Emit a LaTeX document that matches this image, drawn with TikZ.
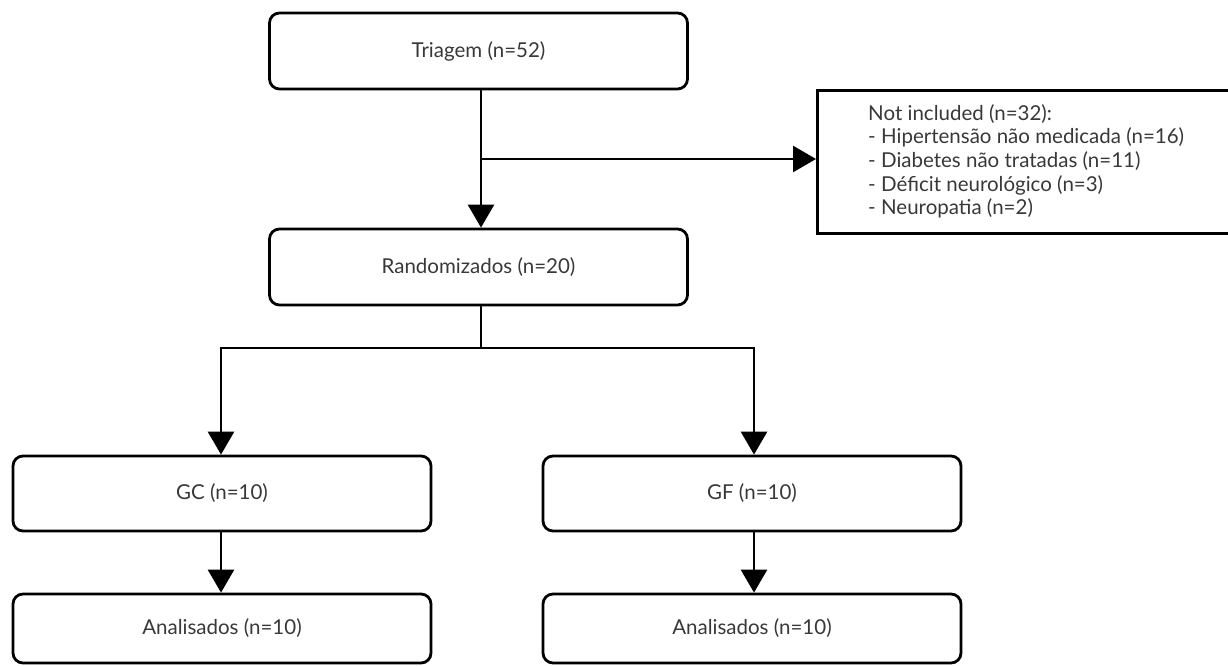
\documentclass[tikz,border=0pt]{standalone}
\usepackage{fontspec}
\setmainfont{Lato}
\usetikzlibrary{arrows.meta}
\begin{document}
\begin{tikzpicture}[x=1pt,y=-1pt,
  rbox/.style={draw=black,line width=2.8pt,rounded corners=10pt,minimum width=418pt,minimum height=76pt,inner sep=0pt,font=\fontsize{20.5}{23.7}\selectfont,text=black!78},
  sbox/.style={draw=black,line width=2.8pt,inner sep=0pt},
  conn/.style={line width=2.8pt},
  arr/.style={conn,-{Triangle[width=26pt,length=23pt]}}]
\useasboundingbox (0,0) rectangle (1228,666);
\node[rbox] (tri) at (478.5,51) {Triagem (n=52)};
\node[sbox,minimum width=420pt,minimum height=143pt,anchor=north west] (ni) at (816,89) {};
\node[anchor=north west,font=\fontsize{20.5}{23.7}\selectfont,text=black!78,align=left,inner sep=0pt] (nit) at (868,104)
  {Not included (n=32):\\- Hipertensão não medicada (n=16)\\- Diabetes não tratadas (n=11)\\- Déficit neurológico (n=3)\\- Neuropatia (n=2)};
\node[rbox] (ran) at (478.5,267) {Randomizados (n=20)};
\node[rbox,minimum height=75pt] (gc) at (222,493.5) {GC (n=10)};
\node[rbox,minimum height=75pt] (gf) at (752,493.5) {GF (n=10)};
\node[rbox,minimum height=69pt] (ac) at (222,628.5) {Analisados (n=10)};
\node[rbox,minimum height=69pt] (af) at (752,628.5) {Analisados (n=10)};
\coordinate (b1) at (481,159);
\coordinate (s) at (481,348);
\coordinate (sl) at (221,348);
\coordinate (sr) at (754,348);
\draw[arr] (tri.south -| b1) -- (ran.north -| b1);
\draw[arr] (b1) -- (ni.west |- b1);
\draw[conn] (ran.south -| s) -- (s);
\draw[conn] ([xshift=-1.4pt]sl) -- ([xshift=1.4pt]sr);
\draw[arr] (sl) -- (gc.north -| sl);
\draw[arr] (sr) -- (gf.north -| sr);
\draw[arr] (gc.south -| sl) -- (ac.north -| sl);
\draw[arr] (gf.south -| sr) -- (af.north -| sr);
\end{tikzpicture}
\end{document}
